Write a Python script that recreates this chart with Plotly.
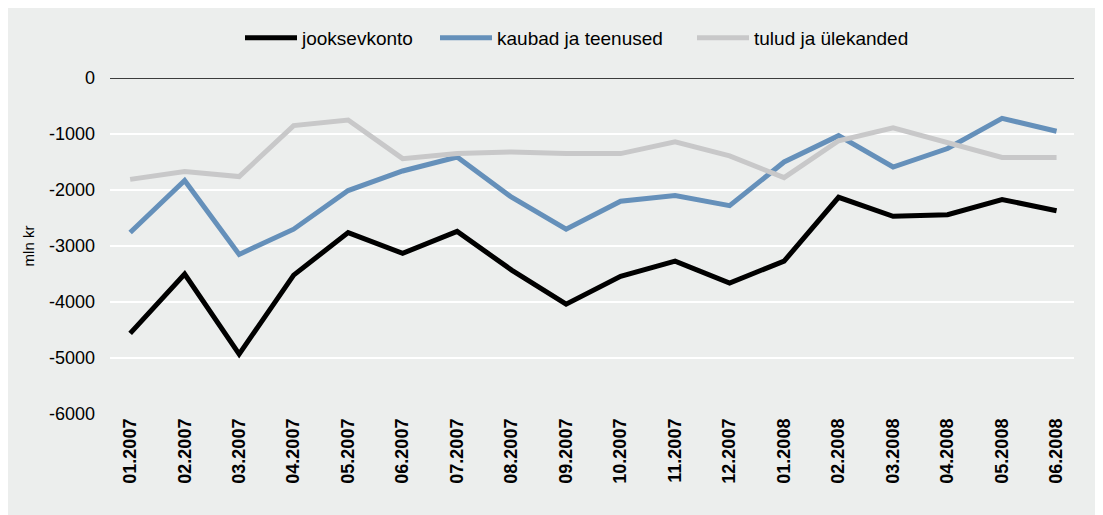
import plotly.graph_objects as go

months = ["01.2007", "02.2007", "03.2007", "04.2007", "05.2007", "06.2007",
          "07.2007", "08.2007", "09.2007", "10.2007", "11.2007", "12.2007",
          "01.2008", "02.2008", "03.2008", "04.2008", "05.2008", "06.2008"]
jooksevkonto = [-4560, -3500, -4930, -3520, -2760, -3130, -2740, -3430, -4040,
                -3540, -3270, -3660, -3270, -2130, -2470, -2440, -2170, -2370]
kaubad = [-2760, -1830, -3150, -2700, -2010, -1660, -1410, -2130, -2700,
          -2200, -2100, -2280, -1500, -1030, -1590, -1260, -720, -950]
tulud = [-1810, -1670, -1760, -850, -750, -1440, -1350, -1320, -1350,
         -1350, -1140, -1390, -1780, -1120, -890, -1160, -1420, -1420]
y_ticks = [0, -1000, -2000, -3000, -4000, -5000, -6000]

# page has an 8px body margin; size the figure so it fills the 1103x515 view
OFF = 8
EXTRA = 8
W, H = 1103 - OFF + EXTRA, 515 - OFF + EXTRA
L, R, T, B = 110 - OFF, 29 + EXTRA, 77 - OFF, 101 + EXTRA
font = "Liberation Sans, Arial, sans-serif"
pw = W - L - R
ph = H - T - B

series = [("jooksevkonto", jooksevkonto, "#000000", "legend", 243),
          ("kaubad ja teenused", kaubad, "#6590ba", "legend2", 438),
          ("tulud ja ülekanded", tulud, "#c8c8c9", "legend3", 695)]

fig = go.Figure()
legends = {}
for name, vals, col, lg, start in series:
    fig.add_trace(go.Scatter(x=months, y=vals, name=name, mode="lines", legend=lg,
                             line=dict(color=col, width=5)))
    legends[lg] = dict(orientation="h", x=(start - OFF - L - 3) / pw, xanchor="left",
                       y=1 + 39 / ph, yanchor="middle", itemwidth=52,
                       font=dict(size=19), bgcolor="rgba(0,0,0,0)")

fig.add_shape(type="rect", xref="paper", yref="paper",
              x0=(7 - OFF - L) / pw, x1=(W + 20 - L) / pw,
              y0=-(B + 20) / ph, y1=(H - (5 - OFF) - B) / ph,
              fillcolor="#eceeed", line=dict(width=0), layer="below")
fig.add_shape(type="line", xref="paper", yref="y", x0=0, x1=1, y0=0, y1=0,
              line=dict(color="#000000", width=1.5), layer="above")

fig.update_layout(
    width=W, height=H,
    margin=dict(l=L, r=R, t=T, b=B),
    paper_bgcolor="white", plot_bgcolor="#eceeed",
    font=dict(family=font, color="#000000", size=18),
    showlegend=True,
    xaxis=dict(range=[-0.37, 17.32], tickangle=-90, showgrid=False, showline=False,
               ticks="", automargin=False,
               tickfont=dict(size=18, family=font, weight="bold")),
    yaxis=dict(range=[-6000, 0], tickvals=y_ticks, ticktext=[str(v) for v in y_ticks],
               showgrid=True, gridcolor="#ffffff", gridwidth=1.5, zeroline=False,
               showline=False, ticks="", ticklabelstandoff=14, automargin=False,
               tickfont=dict(size=18),
               title=dict(text="mln kr", font=dict(size=15), standoff=10)),
    **legends,
)
fig.write_html("out.html")
